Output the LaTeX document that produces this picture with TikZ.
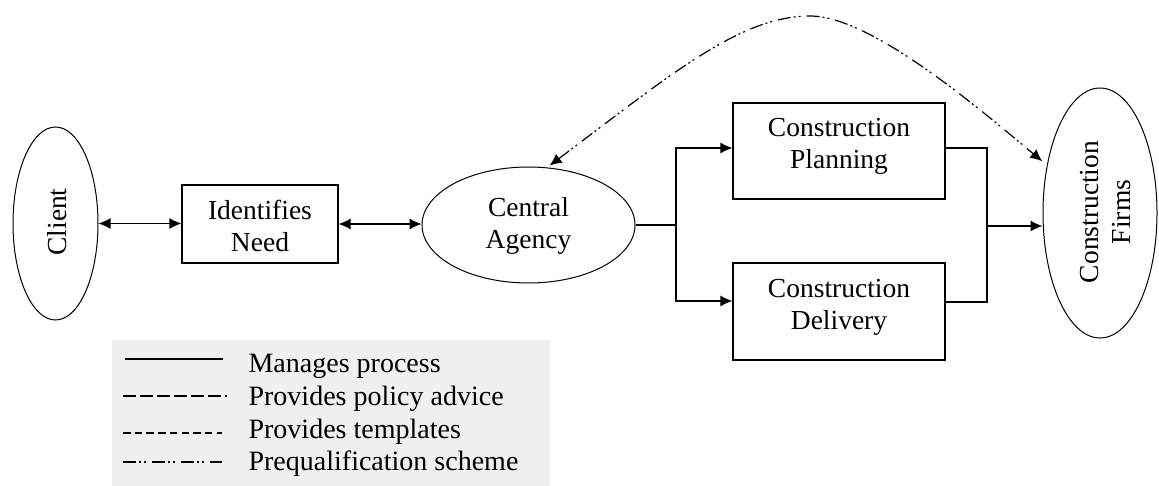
\documentclass[tikz,border=0pt]{standalone}
\usepackage{fontspec}
\setmainfont{Liberation Serif}
\usetikzlibrary{arrows.meta,calc,shapes.geometric}
\definecolor{legbg}{RGB}{240,240,240}
\begin{document}
\begin{tikzpicture}[x=1pt,y=-1pt, line width=1.2pt,
  tip/.style={-{Latex[length=12pt,width=11pt]}},
  both/.style={{Latex[length=12pt,width=11pt]}-{Latex[length=12pt,width=11pt]}},
  oval/.style={draw, ellipse, line width=1pt, inner sep=0pt},
  box/.style={draw, rectangle, inner sep=0pt},
  lbl/.style={font=\fontsize{27.5}{32}\selectfont, align=center, inner sep=0pt},
  legtxt/.style={font=\fontsize{28}{33}\selectfont, anchor=base west, inner sep=0pt},
  policy/.style={dash pattern=on 13pt off 4pt},
  templ/.style={dash pattern=on 7.5pt off 4.2pt},
  prequal/.style={dash pattern=on 13pt off 3pt on 2pt off 3pt on 2pt off 6pt}]
\useasboundingbox (0,0) rectangle (1159,486);

% shapes
\node[oval, minimum width=85pt, minimum height=193pt] (cl) at (55.5,223.5) {};
\node[lbl, rotate=90] (cltxt) at (57,222) {Client};

\node[box, minimum width=156pt, minimum height=78pt] (in) at (260,224) {};
\node[lbl] (intxt) at (260,226) {Identifies\\Need};

\node[oval, minimum width=213pt, minimum height=116pt] (ca) at (528.5,225) {};
\node[lbl] (catxt) at (528.5,226) {Central\\Agency};

\node[box, minimum width=212pt, minimum height=96pt] (pl) at (839,151) {};
\node[lbl] (pltxt) at (839,146.5) {Construction\\Planning};

\node[box, minimum width=212pt, minimum height=97pt] (dl) at (839,311.5) {};
\node[lbl] (dltxt) at (839,307.5) {Construction\\Delivery};

\node[oval, minimum width=114pt, minimum height=250pt] (cf) at (1100,213) {};
\node[lbl, rotate=90] (cftxt) at (1106,212) {Construction\\Firms};

% connectors
\draw[both] (cl.east) -- (cl.east -| in.west);
\draw[both] (in.east) -- (in.east -| ca.west);
\coordinate (j1) at (676,226);
\draw (ca.east) -- (ca.east -| j1);
\draw[tip] (j1) |- ([yshift=3pt]pl.west);
\draw[tip] (j1) |- ([yshift=10.5pt]dl.west);
\coordinate (j2) at (987,226);
\draw ([yshift=3pt]pl.east) -| (j2);
\draw ([yshift=9.5pt]dl.east) -| (j2);
\draw[tip] (j2) -- (j2 -| cf.west);

\draw[both, prequal, shorten <=3pt, shorten >=6pt]
  (ca.72) .. controls (670,75) and (740,16) .. (810,16)
          .. controls (870,16) and (975,105) .. (cf.138);

% legend
\fill[legbg] (112,340) rectangle (550,486);
\draw (125,359) -- (223,359);
\draw[policy] (123,396) -- (227,396);
\draw[templ] (123,433) -- (222,433);
\draw[prequal] (123,462) -- (222,462);
\node[legtxt] (l1) at (248,372) {Manages process};
\node[legtxt] (l2) at (248,405) {Provides policy advice};
\node[legtxt] (l3) at (248,438) {Provides templates};
\node[legtxt] (l4) at (248,470) {Prequalification scheme};
\end{tikzpicture}
\end{document}
